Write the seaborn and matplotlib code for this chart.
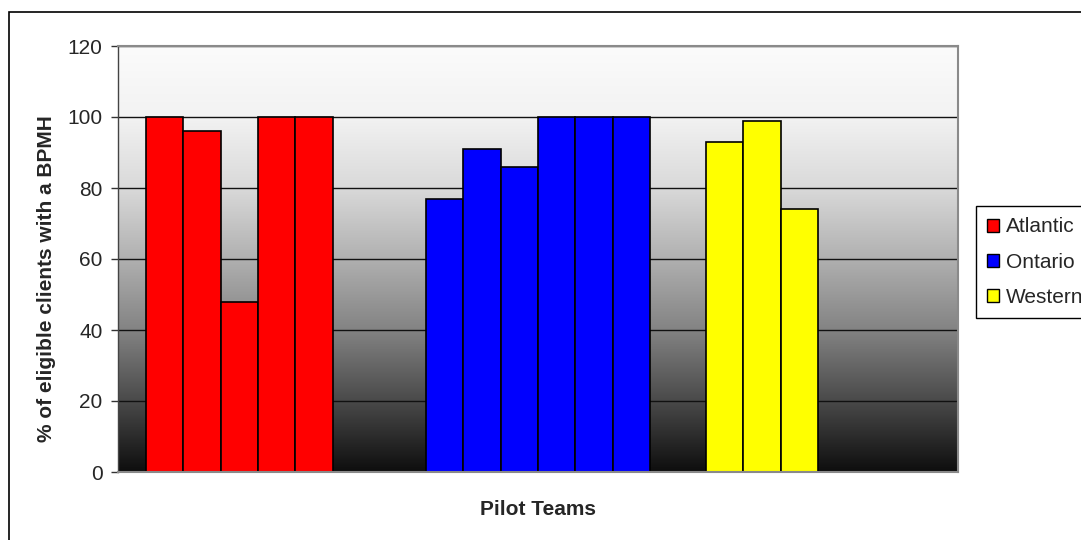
import numpy as np
import pandas as pd
import matplotlib
matplotlib.use("Agg")
import matplotlib.pyplot as plt
import seaborn as sns
from matplotlib.colors import LinearSegmentedColormap
from matplotlib.patches import Patch, Rectangle

# Values (% of eligible clients with a BPMH)
teams = ["Atlantic", "Ontario", "Western"]
atlantic = [100, 96, 48, 100, 100]
ontario = [77, 91, 86, 100, 100, 100]
western = [93, 99, 74]
team_colors = ["#ff0000", "#0000ff", "#ffff00"]
y_ticks = [0, 20, 40, 60, 80, 100, 120]

# long table: one row per pilot team bar, slot = position inside the cluster
rows = []
for team, vals in zip(teams, [atlantic, ontario, western]):
    for i, v in enumerate(vals):
        rows.append({"team": team, "slot": str(i + 1), "pct": v})
df = pd.DataFrame(rows)
slots = [str(i + 1) for i in range(6)]

sns.set_style("ticks")
plt.rcParams["font.family"] = ["Liberation Sans", "DejaVu Sans"]

fig = plt.figure(figsize=(10.81, 5.4), dpi=100)
ax = fig.add_axes([118 / 1081, 1 - 472 / 540, 840 / 1081, 426 / 540])

# grey gradient plot area, white on top to black at the bottom
grad = LinearSegmentedColormap.from_list(
    "bg",
    [(0.0, "#0e0e0e"), (20 / 120, "#4a4a4a"), (40 / 120, "#838383"),
     (60 / 120, "#b0b0b0"), (80 / 120, "#d9d9d9"), (100 / 120, "#f2f2f2"),
     (1.0, "#fbfbfb")])
ax.imshow(np.linspace(0, 1, 256).reshape(-1, 1), cmap=grad, origin="lower",
          extent=(-0.5, 2.5, 0, 120), aspect="auto", zorder=0)

sns.barplot(data=df, x="team", y="pct", hue="slot", hue_order=slots,
            order=teams, width=0.8, dodge=True, legend=False,
            edgecolor="black", linewidth=1.2, ax=ax, zorder=2)

# colour each bar by the team it belongs to
for p in ax.patches:
    cx = p.get_x() + p.get_width() / 2
    p.set_facecolor(team_colors[int(round(cx))])
    p.set_alpha(1)

ax.set_xlim(-0.5, 2.5)
ax.set_ylim(0, 120)
ax.set_yticks(y_ticks)
ax.set_xticks([])
ax.tick_params(axis="y", labelsize=15, length=5, width=1, color="#333333", pad=6)
ax.set_axisbelow(True)
ax.yaxis.grid(True, color="#111111", linewidth=1)
ax.xaxis.grid(False)

for side in ["top", "right", "bottom"]:
    ax.spines[side].set_visible(True)
    ax.spines[side].set_color("#8a8a8a")
    ax.spines[side].set_linewidth(1.5)
ax.spines["left"].set_color("#444444")
ax.spines["left"].set_linewidth(1)

ax.set_xlabel("Pilot Teams", fontsize=15, fontweight="bold", labelpad=20)
ax.set_ylabel("% of eligible clients with a BPMH", fontsize=15,
              fontweight="bold", labelpad=8)
ax.yaxis.label.set_y(0.453)

handles = [Patch(facecolor=c, edgecolor="black", linewidth=1) for c in team_colors]
fig.legend(handles, teams, loc="upper left",
           bbox_to_anchor=(976 / 1081, 1 - 206 / 540),
           fontsize=15, frameon=True, fancybox=False, edgecolor="black",
           framealpha=1, handlelength=0.57, handleheight=0.57,
           handletextpad=0.33, labelspacing=0.77, borderpad=0.55,
           borderaxespad=0)

# outer chart border (only left and top edges fall inside the image)
fig.add_artist(Rectangle((9 / 1081, -0.1), 1.2, 1.1 - 12 / 540,
                         transform=fig.transFigure, fill=False,
                         edgecolor="black", linewidth=1.2))

fig.savefig("out.png", dpi=100)
